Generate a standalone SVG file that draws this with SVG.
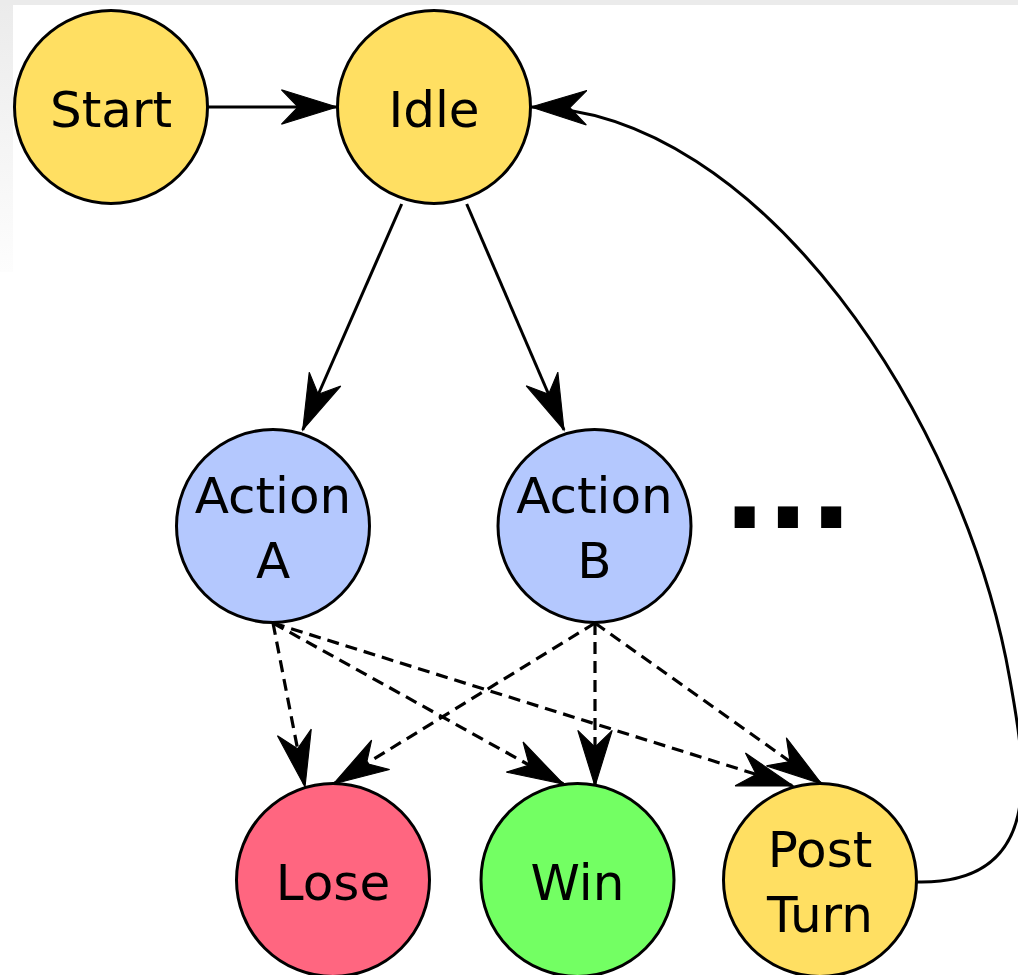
<svg xmlns="http://www.w3.org/2000/svg" width="1018" height="975" viewBox="0 0 1018 975">
<defs>
<linearGradient id="lg" x1="0" y1="0" x2="0" y2="1">
<stop offset="0" stop-color="#ebebeb"/>
<stop offset="1" stop-color="#fdfdfd"/>
</linearGradient>
<marker id="arr" markerUnits="userSpaceOnUse" markerWidth="60" markerHeight="40" viewBox="-52 -18 54 36" refX="0" refY="0" orient="auto" overflow="visible">
<path d="M0,0 L-50,-15.5 L-35,0 L-50,15.5 Z" fill="#000" stroke="#000" stroke-width="1" stroke-linejoin="miter"/>
</marker>
</defs>
<style>
.node{stroke:#000;stroke-width:3}
.yel{fill:#ffdf62}
.blu{fill:#b4c8fe}
.red{fill:#ff6680}
.grn{fill:#73ff63}
.lbl{font-family:"DejaVu Sans",sans-serif;font-size:50px;fill:#000;text-anchor:middle}
.e{fill:none;stroke:#000;stroke-width:3;marker-end:url(#arr)}
.d{stroke-dasharray:12,7;stroke-width:3.2}
</style>
<rect x="0" y="0" width="1018" height="975" fill="#fff"/>
<rect x="0" y="0" width="13" height="272" fill="url(#lg)"/>
<rect x="0" y="0" width="1018" height="5" fill="#ebebeb"/>
<g id="edges">
<path class="e" d="M208,107 L337,107"/>
<path class="e" d="M401.7,204 L302.7,430"/>
<path class="e" d="M466.7,204 L564,430"/>
<path class="e" d="M917,882 C1050,885 1024,760 1010,680 C965,420 760,110 531,107"/>
<path class="e d" d="M273,623 L305,787"/>
<path class="e d" d="M273,623 L563.3,784"/>
<path class="e d" d="M273,623 L793.3,786"/>
<path class="e d" d="M595,623 L333.3,784"/>
<path class="e d" d="M595,623 L595,786"/>
<path class="e d" d="M595,623 L821.7,784"/>
</g>
<g id="start"><circle class="node yel" cx="111" cy="107" r="96.5"/><text class="lbl" x="111" y="127">Start</text></g>
<g id="idle"><circle class="node yel" cx="434" cy="107" r="96.5"/><text class="lbl" x="434" y="127">Idle</text></g>
<g id="actionA"><circle class="node blu" cx="273" cy="526" r="96.5"/><text class="lbl" x="273" y="513">Action</text><text class="lbl" x="273" y="578">A</text></g>
<g id="actionB"><circle class="node blu" cx="594.5" cy="526" r="96.5"/><text class="lbl" x="594.5" y="513">Action</text><text class="lbl" x="594.5" y="578">B</text></g>
<g id="more"><text x="723" y="528" style="font-family:'DejaVu Sans',sans-serif;font-weight:bold;font-size:114px;fill:#000">...</text></g>
<g id="lose"><circle class="node red" cx="333" cy="880" r="96.5"/><text class="lbl" x="333" y="900">Lose</text></g>
<g id="win"><circle class="node grn" cx="577.5" cy="880" r="96.5"/><text class="lbl" x="577.5" y="900">Win</text></g>
<g id="postturn"><circle class="node yel" cx="820" cy="880" r="96.5"/><text class="lbl" x="820" y="867">Post</text><text class="lbl" x="820" y="932">Turn</text></g>
</svg>
